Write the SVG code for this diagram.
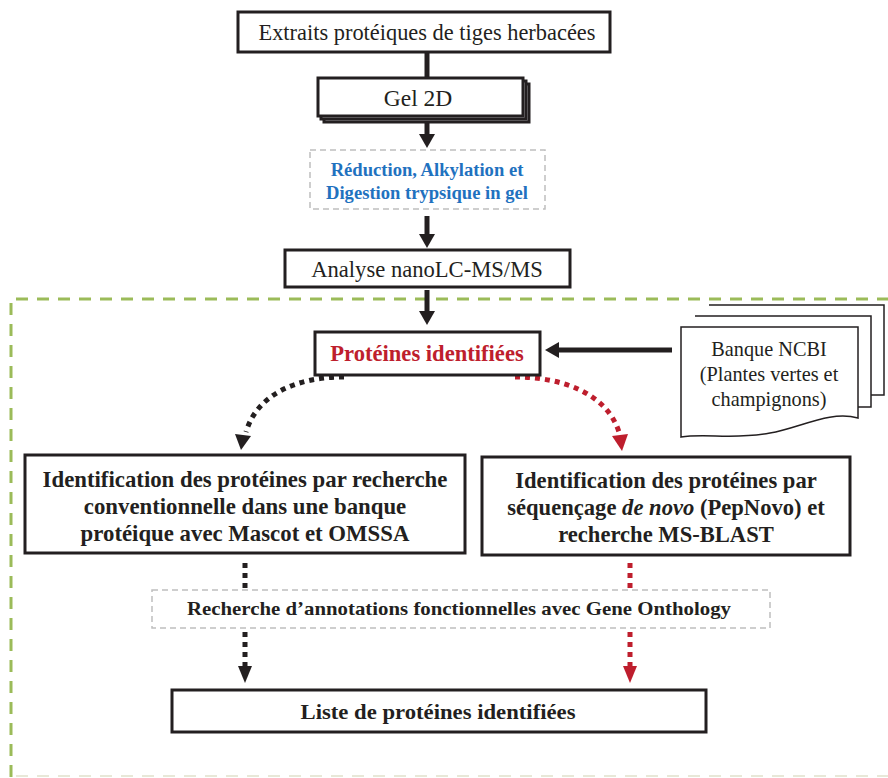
<svg xmlns="http://www.w3.org/2000/svg" width="888" height="778" viewBox="0 0 888 778">
<style>
.box{fill:#fff;stroke:#231f20;stroke-width:3}
.doc{fill:#fff;stroke:#231f20;stroke-width:1.5}
.t{font-family:"Liberation Serif","Times New Roman",serif;fill:#231f20;text-anchor:middle}
.b{font-weight:bold}
.shaft{stroke:#231f20;stroke-width:5;fill:none}
.dotk{stroke:#231f20;stroke-width:5;fill:none;stroke-dasharray:5 5}
.dotr{stroke:#be1e2d;stroke-width:5;fill:none;stroke-dasharray:5 5}
.gray{fill:#fff;stroke:#bfbfbf;stroke-width:1.5;stroke-dasharray:6 4}
</style>
<rect width="888" height="778" fill="#fff"/>
<g id="zone">
<path d="M11,777 V299 H892" fill="none" stroke="#9bbb59" stroke-width="3" stroke-dasharray="12 9"/>
<path d="M16,776 H888" fill="none" stroke="#e8e8d8" stroke-width="2" stroke-dasharray="12 9"/>
</g>
<g id="connectors">
<line class="shaft" x1="427" y1="52" x2="427" y2="80"/>
<line class="shaft" x1="427" y1="118" x2="427" y2="136"/>
<polygon points="419,134 435,134 427,148" fill="#231f20"/>
<line class="shaft" x1="427" y1="216" x2="427" y2="236"/>
<polygon points="419,234 435,234 427,248" fill="#231f20"/>
<line class="shaft" x1="427" y1="290" x2="427" y2="313"/>
<polygon points="419,311 435,311 427,325" fill="#231f20"/>
<line class="shaft" x1="672" y1="350" x2="556" y2="350"/>
<polygon points="559,342 559,358 545,350" fill="#231f20"/>
<path class="dotk" d="M344,377 C300,377 258,392 246,432"/>
<polygon points="235,434 251,436 241,450" fill="#231f20"/>
<path class="dotr" d="M515,377 C560,377 606,392 619,432"/>
<polygon points="612,436 628,434 622,451" fill="#be1e2d"/>
<line class="dotk" x1="245" y1="563" x2="245" y2="591"/>
<line class="dotr" x1="630" y1="563" x2="630" y2="591"/>
<line class="dotk" x1="245" y1="632" x2="245" y2="668"/>
<polygon points="238,666 252,666 245,683" fill="#231f20"/>
<line class="dotr" x1="630" y1="632" x2="630" y2="668"/>
<polygon points="623,666 637,666 630,683" fill="#be1e2d"/>
</g>
<g id="extraits">
<rect class="box" x="238" y="12" width="372" height="40"/>
<text class="t" x="427" y="40" font-size="22.4">Extraits protéiques de tiges herbacées</text>
</g>
<g id="gel2d">
<rect class="box" x="324" y="84" width="205" height="38" stroke-width="2"/>
<rect class="box" x="321" y="81" width="205" height="38" stroke-width="2"/>
<rect class="box" x="318" y="78" width="205" height="38"/>
<text class="t" x="418" y="106" font-size="23.5">Gel 2D</text>
</g>
<g id="reduction">
<rect class="gray" x="310" y="150" width="235" height="59"/>
<text class="t b" x="427" y="176" font-size="18.6" style="fill:#1f72bf">Réduction, Alkylation et</text>
<text class="t b" x="427" y="199" font-size="18.6" style="fill:#1f72bf">Digestion trypsique in gel</text>
</g>
<g id="analyse">
<rect class="box" x="285" y="250" width="285" height="37"/>
<text class="t" x="427" y="277" font-size="22.6">Analyse nanoLC-MS/MS</text>
</g>
<g id="proteines">
<rect class="box" x="315" y="332" width="225" height="43"/>
<text class="t b" x="427" y="361" font-size="22.6" style="fill:#be1e2d">Protéines identifiées</text>
</g>
<g id="ncbi">
<path class="doc" d="M709,305 H884 V395 H871"/>
<path class="doc" d="M695,316 H871 V407 H858"/>
<path class="doc" d="M681,327 H858 V418 C830,410 800,428 770,433 C735,440 705,433 681,437 Z"/>
<text class="t" x="769" y="356" font-size="20.3">Banque NCBI</text>
<text class="t" x="769" y="381" font-size="20.3">(Plantes vertes et</text>
<text class="t" x="769" y="406" font-size="20.3">champignons)</text>
</g>
<g id="conventionnelle">
<rect class="box" x="25" y="455" width="440" height="98"/>
<text class="t b" x="245" y="487" font-size="22.8">Identification des protéines par recherche</text>
<text class="t b" x="245" y="514" font-size="22.8">conventionnelle dans une banque</text>
<text class="t b" x="245" y="541" font-size="22.8">protéique avec Mascot et OMSSA</text>
</g>
<g id="denovo">
<rect class="box" x="482" y="457" width="368" height="98"/>
<text class="t b" x="666" y="488" font-size="22.6">Identification des protéines par</text>
<text class="t b" x="666" y="515" font-size="22.6">séquençage <tspan font-style="italic">de novo</tspan> (PepNovo) et</text>
<text class="t b" x="666" y="542" font-size="22.6">recherche MS-BLAST</text>
</g>
<g id="annotations">
<rect class="gray" x="152" y="590" width="618" height="38"/>
<text class="t b" x="459" y="615" font-size="19" textLength="544" lengthAdjust="spacingAndGlyphs">Recherche d’annotations fonctionnelles avec Gene Onthology</text>
</g>
<g id="liste">
<rect class="box" x="172" y="690" width="534" height="42"/>
<text class="t b" x="438" y="719" font-size="21" textLength="275" lengthAdjust="spacingAndGlyphs">Liste de protéines identifiées</text>
</g>
</svg>
